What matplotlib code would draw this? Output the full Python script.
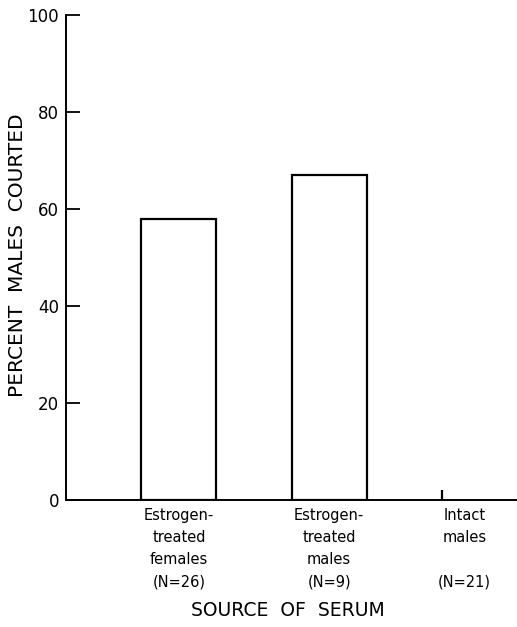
import matplotlib
matplotlib.use("Agg")
import matplotlib.pyplot as plt

# data
groups = ["Estrogen-\ntreated\nfemales", "Estrogen-\ntreated\nmales", "Intact\nmales\n"]
n_counts = [26, 9, 21]
percent_courted = [58, 67, 0]
bar_pos = [1.5, 3.5, 5.0]
label_pos = [1.5, 3.5, 5.3]

plt.rcParams["font.family"] = ["DejaVu Sans"]

fig = plt.figure(figsize=(5.17, 6.27), dpi=100)
ax = fig.add_axes([0.128, 0.2026, 0.872, 0.7734])

for x, v in zip(bar_pos, percent_courted):
    if v > 0:
        ax.bar(x, v, width=1.0, facecolor="white", edgecolor="black", linewidth=1.6)
    else:
        # zero result shown as a short stub on the baseline
        ax.vlines(x, 0, 2, color="black", linewidth=1.6)

ax.set_xlim(0, 6)
ax.set_ylim(0, 100)
ax.set_yticks([0, 20, 40, 60, 80, 100])
ax.tick_params(axis="y", direction="in", length=10, width=1.3, labelsize=12, pad=5)
ax.set_xticks([])

for s in ["top", "right"]:
    ax.spines[s].set_visible(False)
for s in ["left", "bottom"]:
    ax.spines[s].set_linewidth(1.4)

for x, g, n in zip(label_pos, groups, n_counts):
    ax.text(x, -0.016, g + "\n(N=%d)" % n, ha="center", va="top", fontsize=10.5,
            linespacing=1.6, transform=ax.get_xaxis_transform())

fig.text(0.033, 0.593, "PERCENT  MALES  COURTED", rotation=90, ha="center", va="center", fontsize=14.5)
fig.text(0.557, 0.027, "SOURCE  OF  SERUM", ha="center", va="center", fontsize=13.5)

fig.savefig("out.png", dpi=100)
